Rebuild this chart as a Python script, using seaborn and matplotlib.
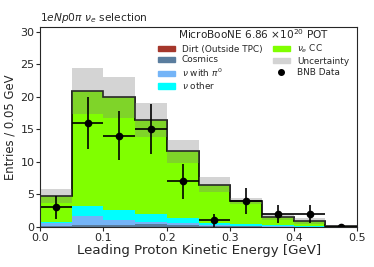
import numpy as np
import pandas as pd
import matplotlib
matplotlib.use("Agg")
import matplotlib.pyplot as plt
import seaborn as sns
from matplotlib.patches import Patch
from matplotlib.lines import Line2D

# binning and per-bin event counts
edges = [0.0, 0.05, 0.1, 0.15, 0.2, 0.25, 0.3, 0.35, 0.4, 0.45, 0.5]
centers = [0.025, 0.075, 0.125, 0.175, 0.225, 0.275, 0.325, 0.375, 0.425, 0.475]
dirt = [0.02, 0.05, 0.05, 0.05, 0.05, 0.02, 0.02, 0.0, 0.0, 0.0]
cosmics = [0.1, 0.25, 0.2, 0.35, 0.3, 0.1, 0.05, 0.05, 0.0, 0.0]
nu_pi0 = [0.5, 1.4, 0.8, 0.4, 0.3, 0.2, 0.15, 0.1, 0.05, 0.02]
nu_other = [0.2, 1.45, 1.6, 1.25, 0.75, 0.3, 0.3, 0.1, 0.05, 0.02]
nue_cc = [3.93, 17.7, 17.25, 14.35, 10.2, 5.88, 3.48, 1.25, 0.8, 0.06]
mc_unc = [1.0, 3.55, 3.1, 2.6, 1.8, 1.1, 0.45, 0.5, 0.4, 0.2]
bnb_data = [3, 16, 14, 15, 7, 1, 4, 2, 2, 0]
bnb_err = [1.73, 4.0, 3.74, 3.87, 2.65, 1.0, 2.0, 1.41, 1.41, 0.0]

labels = ["Dirt (Outside TPC)", "Cosmics", r"$\nu$ with $\pi^0$", r"$\nu$ other", r"$\nu_e$ CC"]
colors = ["#a5372b", "#5a7d9e", "#74b4f7", "#00ffff", "#80ff00"]
series = [dirt, cosmics, nu_pi0, nu_other, nue_cc]

rows = []
for lab, vals in zip(labels, series):
    for c, v in zip(centers, vals):
        rows.append({"x": c, "w": v, "cat": lab})
df = pd.DataFrame(rows)

sns.set_style("ticks")
fig, ax = plt.subplots(figsize=(3.74, 2.67), dpi=100)
fig.subplots_adjust(left=0.107, right=0.955, bottom=0.15, top=0.899)

# stacked MC prediction (seaborn stacks last hue level at the bottom)
sns.histplot(data=df, x="x", weights="w", hue="cat", bins=edges,
             hue_order=labels[::-1], palette=dict(zip(labels, colors)),
             multiple="stack", element="bars", linewidth=0, alpha=1,
             legend=False, ax=ax)

total = np.array(series).sum(axis=0)
ax.stairs(total, edges, color="black", linewidth=1.2)

# MC uncertainty band
unc = np.array(mc_unc)
ax.bar(centers, 2 * unc, bottom=total - unc, width=0.05, color="#7f7f7f",
       alpha=0.33, linewidth=0)

# data
ax.errorbar(centers, bnb_data, xerr=0.025, yerr=bnb_err, fmt="o", color="black",
            markersize=4.5, linewidth=1.2)

ax.set_xlim(0, 0.5)
ax.set_ylim(0, 30.7)
ax.set_yticks([0, 5, 10, 15, 20, 25, 30])
ax.tick_params(labelsize=8, length=3, pad=1)
ax.set_xlabel("Leading Proton Kinetic Energy [GeV]", fontsize=9.6, labelpad=1)
ax.set_ylabel("Entries / 0.05 GeV", fontsize=8.4, labelpad=3)
ax.set_title(r"$1eNp0\pi$ $\nu_e$ selection", loc="left", fontsize=7.7, pad=4)

handles = [Patch(color=c) for c in colors[:4]] + [
    Patch(color=colors[4]), Patch(color="#d3d3d3"),
    Line2D([], [], marker="o", color="black", linestyle="none", markersize=4)]
leg_labels = labels[:4] + [labels[4], "Uncertainty", "BNB Data"]
ax.legend(handles, leg_labels, ncol=2, frameon=False, fontsize=6.4,
          title=r"MicroBooNE 6.86 $\times 10^{20}$ POT", title_fontsize=7.6,
          loc="upper right", bbox_to_anchor=(1.0, 1.04), handlelength=1.9,
          handleheight=0.55, columnspacing=1.2, labelspacing=0.2,
          handletextpad=0.8)

fig.savefig("out.png", dpi=100)
